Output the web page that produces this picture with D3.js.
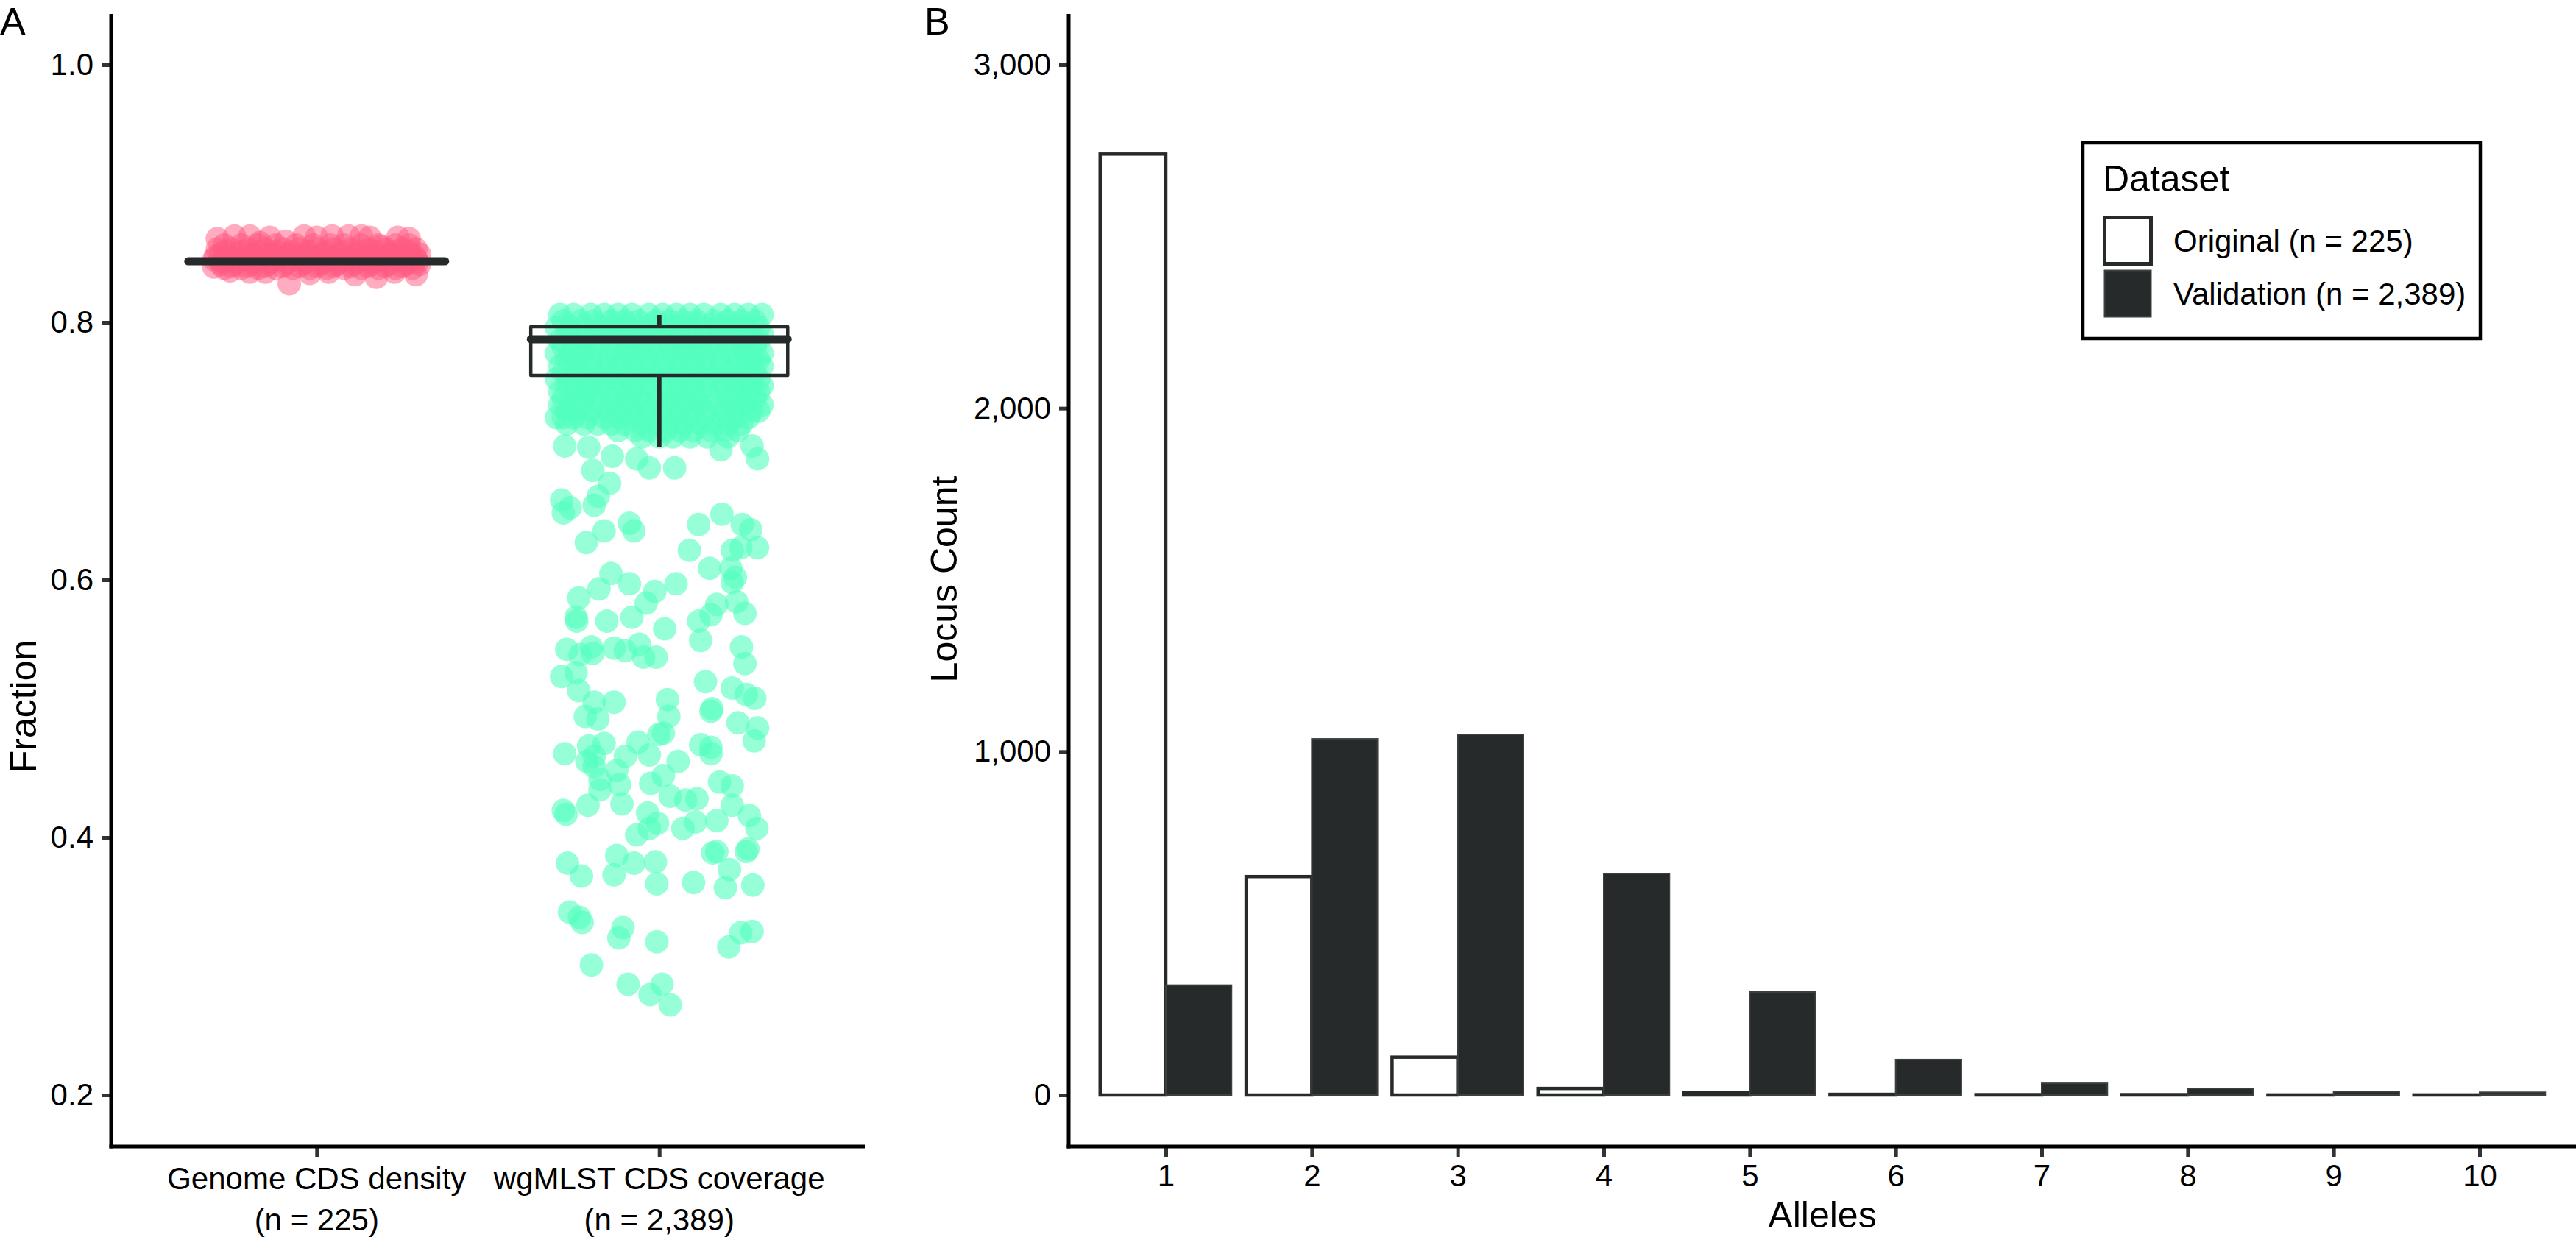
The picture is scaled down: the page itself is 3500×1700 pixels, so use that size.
<!DOCTYPE html>
<html>
<head>
<meta charset="utf-8">
<script src="https://cdn.jsdelivr.net/npm/d3@7"></script>
<style>
  body { margin: 0; background: #ffffff; }
  svg { display: block; }
  text { font-family: 'Liberation Sans', Arial, Helvetica, sans-serif; fill: #000; }
</style>
</head>
<body>
<svg id="chart" width="3500" height="1700"></svg>
<script>
// ---------------- DATA ----------------
// Panel A: categories
const fractionCategories = [["Genome CDS density", "(n = 225)"], ["wgMLST CDS coverage", "(n = 2,389)"]];
const fractionTicks = [0.2, 0.4, 0.6, 0.8, 1.0];

// Box-plot summaries (lower whisker, Q1, median, Q3, upper whisker)
const boxLowerWhisker = [0.8455, 0.7034];
const boxQ1 = [0.8468, 0.7589];
const boxMedian = [0.8474, 0.7869];
const boxQ3 = [0.8479, 0.7966];
const boxUpperWhisker = [0.8490, 0.8057];

// Genome CDS density points: dense rows [value, jitter offsets]
const densityCoreRows = [
  [0.860, [-0.27, -0.22, -0.17, -0.12, -0.06, -0.01, 0.04, 0.08, 0.13, 0.18, 0.23, 0.27]],
  [0.857, [-0.29, -0.25, -0.20, -0.15, -0.10, -0.05, 0.00, 0.05, 0.10, 0.15, 0.20, 0.25, 0.29]],
  [0.855, [-0.27, -0.22, -0.17, -0.12, -0.075, -0.025, 0.025, 0.075, 0.125, 0.175, 0.225, 0.27]],
  [0.853, [-0.28, -0.23, -0.18, -0.13, -0.08, -0.03, 0.02, 0.07, 0.12, 0.17, 0.22, 0.27, 0.30]],
  [0.851, [-0.295, -0.255, -0.205, -0.155, -0.105, -0.055, -0.005, 0.045, 0.095, 0.145, 0.195, 0.245, 0.285]],
  [0.849, [-0.30, -0.26, -0.21, -0.16, -0.11, -0.06, -0.01, 0.04, 0.09, 0.14, 0.19, 0.24, 0.29]],
  [0.847, [-0.275, -0.235, -0.185, -0.135, -0.085, -0.035, 0.015, 0.065, 0.115, 0.165, 0.215, 0.265, 0.295]],
  [0.845, [-0.28, -0.24, -0.19, -0.14, -0.09, -0.04, 0.01, 0.06, 0.11, 0.16, 0.21, 0.26, 0.30]],
  [0.8435, [-0.25, -0.2, -0.15, -0.1, -0.05, 0.0, 0.05, 0.1, 0.15, 0.2, 0.25]],
  [0.842, [-0.27, -0.22, -0.17, -0.12, -0.07, -0.02, 0.03, 0.08, 0.13, 0.18, 0.23, 0.28]]
];
// Genome CDS density edge points
const densityEdgeValues = [0.865, 0.867, 0.867, 0.866, 0.867, 0.866, 0.867, 0.867, 0.867, 0.866, 0.866, 0.865, 0.862, 0.863, 0.859,
  0.830, 0.835, 0.837, 0.837, 0.840, 0.839, 0.838, 0.839, 0.839, 0.839, 0.843];
const densityEdgeOffsets = [-0.29, -0.24, -0.195, -0.137, -0.037, 0.0, 0.045, 0.093, 0.131, 0.155, 0.237, 0.27, -0.166, -0.09, 0.189,
  -0.08, 0.174, 0.112, 0.29, -0.253, -0.195, -0.02, 0.035, -0.15, 0.227, -0.30];

// wgMLST CDS coverage points: dense rows [value, jitter offsets]
const coverageCoreRows = [
  [0.806, [-0.29, -0.25, -0.20, -0.16, -0.12, -0.08, -0.03, 0.01, 0.05, 0.09, 0.13, 0.18, 0.22, 0.26, 0.30]],
  [0.801, [-0.28, -0.23, -0.19, -0.14, -0.10, -0.06, -0.01, 0.03, 0.07, 0.11, 0.16, 0.20, 0.24, 0.28]],
  [0.796, [-0.30, -0.26, -0.22, -0.17, -0.13, -0.09, -0.04, 0.00, 0.04, 0.09, 0.13, 0.17, 0.21, 0.25, 0.29]],
  [0.791, [-0.27, -0.24, -0.19, -0.15, -0.11, -0.06, -0.02, 0.02, 0.06, 0.10, 0.15, 0.19, 0.23, 0.27, 0.30]],
  [0.786, [-0.29, -0.25, -0.21, -0.17, -0.12, -0.08, -0.04, 0.01, 0.05, 0.09, 0.13, 0.17, 0.22, 0.26, 0.29]],
  [0.781, [-0.28, -0.23, -0.19, -0.14, -0.10, -0.06, -0.02, 0.03, 0.07, 0.11, 0.15, 0.20, 0.24, 0.28]],
  [0.776, [-0.30, -0.26, -0.22, -0.18, -0.13, -0.09, -0.05, 0.00, 0.04, 0.08, 0.12, 0.17, 0.21, 0.25, 0.30]],
  [0.771, [-0.27, -0.24, -0.20, -0.15, -0.11, -0.07, -0.03, 0.02, 0.06, 0.10, 0.14, 0.18, 0.23, 0.27, 0.29]],
  [0.766, [-0.29, -0.25, -0.21, -0.16, -0.12, -0.08, -0.04, 0.01, 0.05, 0.09, 0.13, 0.18, 0.22, 0.26, 0.30]],
  [0.761, [-0.28, -0.23, -0.19, -0.15, -0.10, -0.06, -0.02, 0.03, 0.07, 0.11, 0.16, 0.20, 0.24, 0.28]],
  [0.756, [-0.30, -0.26, -0.22, -0.17, -0.13, -0.09, -0.04, 0.00, 0.04, 0.08, 0.13, 0.17, 0.21, 0.25, 0.29]],
  [0.751, [-0.27, -0.24, -0.20, -0.16, -0.11, -0.07, -0.03, 0.02, 0.06, 0.10, 0.14, 0.19, 0.23, 0.27, 0.30]],
  [0.746, [-0.29, -0.25, -0.21, -0.18, -0.12, -0.08, -0.05, 0.01, 0.05, 0.09, 0.12, 0.18, 0.22, 0.26, 0.29]],
  [0.741, [-0.28, -0.23, -0.19, -0.14, -0.10, -0.06, -0.01, 0.03, 0.07, 0.11, 0.15, 0.20, 0.24, 0.28]],
  [0.736, [-0.29, -0.26, -0.22, -0.17, -0.13, -0.09, -0.04, 0.00, 0.04, 0.08, 0.12, 0.17, 0.21, 0.25, 0.30]],
  [0.731, [-0.27, -0.24, -0.20, -0.15, -0.11, -0.07, -0.03, 0.02, 0.06, 0.10, 0.14, 0.19, 0.23, 0.27, 0.29]],
  [0.726, [-0.28, -0.25, -0.21, -0.16, -0.12, -0.08, -0.04, 0.01, 0.05, 0.09, 0.13, 0.18, 0.22, 0.26]],
  [0.721, [-0.27, -0.22, -0.18, -0.14, -0.10, -0.05, -0.01, 0.03, 0.07, 0.12, 0.16, 0.20, 0.24]],
  [0.716, [-0.12, -0.07, -0.03, 0.02, 0.06, 0.10, 0.15, 0.19, 0.23]],
  [0.711, [-0.05, 0.00, 0.04, 0.09, 0.14, 0.20]]
];
// wgMLST CDS coverage scattered points (value, jitter offset)
const coverageOutlierValues = [0.726, 0.704, 0.703, 0.696, 0.694, 0.687, 0.687, 0.685, 0.701, 0.694, 0.704, 0.675, 0.662, 0.656, 0.665, 0.658, 0.652,
  0.644, 0.638, 0.638, 0.629, 0.643, 0.651, 0.643, 0.639, 0.625, 0.625, 0.623, 0.623, 0.609, 0.609, 0.602, 0.598, 0.605, 0.593, 0.597,
  0.591, 0.597, 0.582, 0.586, 0.571, 0.568, 0.568, 0.571, 0.562, 0.568, 0.573, 0.581, 0.583, 0.574, 0.553, 0.546, 0.542, 0.543, 0.548,
  0.547, 0.545, 0.550, 0.540, 0.540, 0.548, 0.535, 0.525, 0.528, 0.514, 0.505, 0.505, 0.494, 0.492, 0.521, 0.516, 0.508, 0.511, 0.500,
  0.498, 0.489, 0.485, 0.475, 0.507, 0.494, 0.481, 0.480, 0.465, 0.471, 0.473, 0.463, 0.459, 0.455, 0.463, 0.474, 0.464, 0.452, 0.445,
  0.437, 0.441, 0.426, 0.442, 0.448, 0.459, 0.432, 0.429, 0.430, 0.472, 0.470, 0.465, 0.443, 0.440, 0.425, 0.417, 0.407, 0.413, 0.412,
  0.407, 0.411, 0.407, 0.402, 0.419, 0.425, 0.421, 0.418, 0.380, 0.370, 0.371, 0.386, 0.380, 0.381, 0.364, 0.365, 0.388, 0.389, 0.375,
  0.361, 0.389, 0.391, 0.363, 0.342, 0.338, 0.334, 0.330, 0.322, 0.319, 0.315, 0.326, 0.327, 0.301, 0.286, 0.286, 0.278, 0.270];
const coverageOutlierOffsets = [-0.30, -0.276, -0.206, -0.137, -0.066, -0.029, 0.045, -0.194, 0.180, 0.287, 0.271, -0.145, -0.285, -0.260, -0.178, -0.190, -0.280,
  -0.087, -0.074, -0.161, -0.213, 0.115, 0.183, 0.242, 0.267, 0.238, 0.287, 0.213, 0.088, 0.147, 0.209, 0.222, 0.213, -0.141, -0.176, -0.087,
  -0.013, 0.049, -0.038, -0.235, -0.243, -0.241, -0.153, -0.080, 0.016, 0.115, 0.151, 0.168, 0.226, 0.250, 0.121, -0.270, -0.231, -0.194, -0.198,
  -0.132, -0.099, -0.058, -0.046, -0.009, 0.240, 0.250, -0.285, -0.243, -0.235, -0.190, -0.132, -0.216, -0.179, 0.135, 0.213, 0.279, 0.254, 0.154,
  0.151, 0.230, 0.287, 0.277, 0.024, 0.028, 0.012, -0.001, -0.276, -0.206, -0.161, -0.190, -0.211, -0.190, -0.099, -0.062, -0.029, -0.124, -0.173,
  -0.173, -0.116, -0.109, -0.025, 0.012, 0.055, 0.032, 0.077, 0.110, 0.121, 0.151, 0.151, 0.176, 0.213, 0.213, 0.263, 0.285, 0.168, 0.106,
  0.069, -0.005, -0.029, -0.066, -0.034, -0.208, -0.280, -0.272, -0.268, -0.227, -0.132, -0.124, -0.074, -0.011, -0.007, 0.100, 0.156, 0.168, 0.205,
  0.193, 0.254, 0.259, 0.273, -0.262, -0.233, -0.225, -0.106, -0.118, -0.007, 0.203, 0.238, 0.271, -0.198, -0.091, 0.008, -0.027, 0.032];

// Panel B
const alleleCategories = [1, 2, 3, 4, 5, 6, 7, 8, 9, 10];
const originalCounts = [2740, 636, 110, 19, 6, 2, 1, 1, 0, 0];
const validationCounts = [320, 1037, 1050, 645, 300, 103, 34, 19, 10, 8];
const locusTicks = [0, 1000, 2000, 3000];
const seriesNames = ["Original (n = 225)", "Validation (n = 2,389)"];

// ---------------- DRAWING ----------------
const svg = d3.select("#chart");
const DARK = "#262a2b";
const PINK = "#ff5a82";
const GREEN = "#52ffbe";
const TICK_FONT = 42;
const TITLE_FONT = 50;

// ===== Panel A =====
const xA = d3.scaleLinear().domain([0.4, 2.6]).range([151, 1175]);
const yA = d3.scaleLinear().domain([0.2, 1.0]).range([1488, 88]);

const densityPoints = [];
densityCoreRows.forEach(([v, offs]) => offs.forEach(o => densityPoints.push({v, o})));
densityEdgeValues.forEach((v, i) => densityPoints.push({v, o: densityEdgeOffsets[i]}));
const coveragePoints = [];
coverageCoreRows.forEach(([v, offs]) => offs.forEach(o => coveragePoints.push({v, o})));
coverageOutlierValues.forEach((v, i) => coveragePoints.push({v, o: coverageOutlierOffsets[i]}));

const gA = svg.append("g");
gA.append("g").selectAll("circle").data(densityPoints).join("circle")
  .attr("cx", d => xA(1 + d.o)).attr("cy", d => yA(d.v)).attr("r", 16)
  .attr("fill", PINK).attr("fill-opacity", 0.5);
gA.append("g").selectAll("circle").data(coveragePoints).join("circle")
  .attr("cx", d => xA(2 + d.o)).attr("cy", d => yA(d.v)).attr("r", 16)
  .attr("fill", GREEN).attr("fill-opacity", 0.6);

// boxplots
const boxG = gA.append("g");
[0, 1].forEach(i => {
  const c = i + 1, hw = 0.375;
  boxG.append("line").attr("x1", xA(c)).attr("x2", xA(c))
    .attr("y1", yA(boxUpperWhisker[i])).attr("y2", yA(boxQ3[i]))
    .attr("stroke", DARK).attr("stroke-width", 6);
  boxG.append("line").attr("x1", xA(c)).attr("x2", xA(c))
    .attr("y1", yA(boxQ1[i])).attr("y2", yA(boxLowerWhisker[i]))
    .attr("stroke", DARK).attr("stroke-width", 6);
  boxG.append("rect").attr("x", xA(c - hw)).attr("width", xA(c + hw) - xA(c - hw))
    .attr("y", yA(boxQ3[i])).attr("height", Math.max(0.5, yA(boxQ1[i]) - yA(boxQ3[i])))
    .attr("fill", "none").attr("stroke", DARK).attr("stroke-width", 4.5).attr("stroke-linejoin", "round");
  boxG.append("line").attr("x1", xA(c - hw)).attr("x2", xA(c + hw))
    .attr("y1", yA(boxMedian[i])).attr("y2", yA(boxMedian[i]))
    .attr("stroke", DARK).attr("stroke-width", 11).attr("stroke-linecap", "round");
});

// axes A
const axAL = gA.append("g").attr("transform", "translate(151,0)")
  .call(d3.axisLeft(yA).tickValues(fractionTicks).tickFormat(d3.format(".1f"))
    .tickSize(13).tickPadding(11).tickSizeOuter(0));
const axAB = gA.append("g").attr("transform", "translate(0,1558)")
  .call(d3.axisBottom(xA).tickValues([1, 2]).tickFormat("")
    .tickSize(14).tickSizeOuter(0));
[axAL, axAB].forEach(ax => {
  ax.select(".domain").remove();
  ax.selectAll(".tick line").attr("stroke", "#333").attr("stroke-width", 5);
  ax.selectAll(".tick text").attr("font-size", TICK_FONT).attr("fill", "#000")
    .style("font-family", "'Liberation Sans', Arial, sans-serif");
});
gA.append("line").attr("x1", 151).attr("x2", 151).attr("y1", 19).attr("y2", 1560.5)
  .attr("stroke", "#000").attr("stroke-width", 5);
gA.append("line").attr("x1", 148.5).attr("x2", 1175).attr("y1", 1558).attr("y2", 1558)
  .attr("stroke", "#000").attr("stroke-width", 5);

fractionCategories.forEach((lines, i) => {
  const t = gA.append("text").attr("text-anchor", "middle").attr("font-size", TICK_FONT);
  lines.forEach((ln, j) => t.append("tspan").attr("x", xA(i + 1)).attr("y", 1616 + j * 56).text(ln));
});
gA.append("text").attr("transform", "translate(49,960) rotate(-90)")
  .attr("text-anchor", "middle").attr("font-size", TITLE_FONT).text("Fraction");
svg.append("text").attr("x", 0).attr("y", 47).attr("font-size", 52).text("A");

// ===== Panel B =====
const xB = d3.scaleLinear().domain([0.4, 10.6]).range([1465, 3488]);
const yB = d3.scaleLinear().domain([0, 3000]).range([1488, 88]);
const halfW = 0.45;
const gB = svg.append("g");

gB.append("g").selectAll("rect").data(alleleCategories).join("rect")
  .attr("x", d => xB(d - halfW)).attr("width", d => xB(d) - xB(d - halfW))
  .attr("y", (d, i) => yB(originalCounts[i]) - (originalCounts[i] === 0 ? 0.1 : 0))
  .attr("height", (d, i) => Math.max(0.1, yB(0) - yB(originalCounts[i])))
  .attr("fill", "#fff").attr("stroke", DARK).attr("stroke-width", 4.5);
gB.append("g").selectAll("rect").data(alleleCategories).join("rect")
  .attr("x", d => xB(d)).attr("width", d => xB(d + halfW) - xB(d))
  .attr("y", (d, i) => yB(validationCounts[i]))
  .attr("height", (d, i) => Math.max(0.1, yB(0) - yB(validationCounts[i])))
  .attr("fill", DARK).attr("stroke", "#3b3f40").attr("stroke-width", 2);

const axBL = gB.append("g").attr("transform", "translate(1452,0)")
  .call(d3.axisLeft(yB).tickValues(locusTicks).tickFormat(d3.format(","))
    .tickSize(13).tickPadding(11).tickSizeOuter(0));
const axBB = gB.append("g").attr("transform", "translate(0,1558)")
  .call(d3.axisBottom(xB).tickValues(alleleCategories).tickFormat(d3.format("d"))
    .tickSize(14).tickPadding(10).tickSizeOuter(0));
[axBL, axBB].forEach(ax => {
  ax.select(".domain").remove();
  ax.selectAll(".tick line").attr("stroke", "#333").attr("stroke-width", 5);
  ax.selectAll(".tick text").attr("font-size", TICK_FONT).attr("fill", "#000")
    .style("font-family", "'Liberation Sans', Arial, sans-serif");
});
gB.append("line").attr("x1", 1452).attr("x2", 1452).attr("y1", 19).attr("y2", 1560.5)
  .attr("stroke", "#000").attr("stroke-width", 5);
gB.append("line").attr("x1", 1449.5).attr("x2", 3500).attr("y1", 1558).attr("y2", 1558)
  .attr("stroke", "#000").attr("stroke-width", 5);

gB.append("text").attr("x", 2476).attr("y", 1668).attr("text-anchor", "middle")
  .attr("font-size", TITLE_FONT).text("Alleles");
gB.append("text").attr("transform", "translate(1300,787) rotate(-90)")
  .attr("text-anchor", "middle").attr("font-size", TITLE_FONT).text("Locus Count");
svg.append("text").attr("x", 1256).attr("y", 47).attr("font-size", 52).text("B");

// Legend
const lg = gB.append("g");
lg.append("rect").attr("x", 2830).attr("y", 194).attr("width", 540).attr("height", 266)
  .attr("fill", "#fff").attr("stroke", "#000").attr("stroke-width", 4.5);
lg.append("text").attr("x", 2857).attr("y", 260).attr("font-size", TITLE_FONT).text("Dataset");
const keyFills = ["#fff", DARK];
seriesNames.forEach((name, i) => {
  const y0 = 293 + i * 72;
  lg.append("rect").attr("x", 2859.5).attr("y", y0 + 2.5).attr("width", 63).attr("height", 63)
    .attr("fill", keyFills[i]).attr("stroke", i === 0 ? DARK : "#3b3f40").attr("stroke-width", i === 0 ? 5 : 2);
  lg.append("text").attr("x", 2953).attr("y", y0 + 49).attr("font-size", TICK_FONT).text(name);
});
</script>
</body>
</html>
